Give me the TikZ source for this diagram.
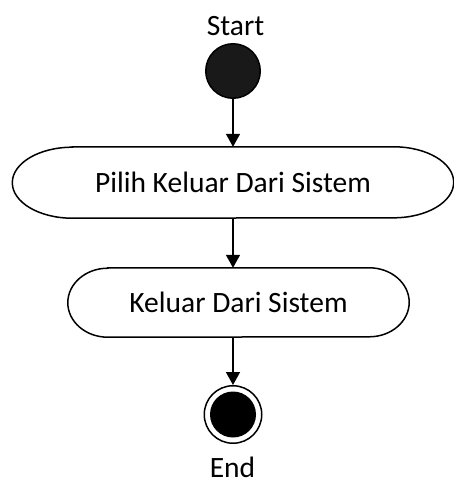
\documentclass[tikz,border=0pt]{standalone}
\usepackage{fontspec}
\setmainfont{Carlito}
\usetikzlibrary{arrows.meta,positioning,calc}

\tikzset{
  initial/.style={circle, draw, fill=black!90, line width=1.5pt, minimum size=54.5pt, inner sep=0pt},
  final/.style={circle, draw, line width=1.5pt, minimum size=57.5pt, inner sep=0pt},
  action/.style={rectangle, draw=none, inner sep=0pt, font=\fontsize{29.5}{34}\selectfont},
  caption/.style={anchor=base, inner sep=0pt, font=\fontsize{29.5}{34}\selectfont},
  flow/.style={line width=1.5pt, -{Triangle[length=13pt,width=14pt]}}
}

\begin{document}
\begin{tikzpicture}[x=1pt, y=-1pt]
\useasboundingbox (0,0) rectangle (453,485);

\node (startlabel) [caption] at (235.5,35) {Start};
\node (start) [initial] at (233,71) {};

\node (pilih) [action, minimum width=321pt, minimum height=71pt] at (233,182.5) {Pilih Keluar Dari Sistem};
\node (keluar) [action, minimum width=261pt, minimum height=69pt] at (238.5,302.5) {Keluar Dari Sistem};

\node (stop) [final] at (233,414.5) {};
\fill (stop.center) circle[radius=23pt];
\node (endlabel) [caption] at (232.5,477) {End};

% Outlines
\draw[line width=1.5pt] (pilih.north west) -- (pilih.north east)
  arc[start angle=90, end angle=-90, x radius=60pt, y radius=35.5pt] -- (pilih.south west)
  arc[start angle=270, end angle=90, x radius=60pt, y radius=35.5pt] -- cycle;
\draw[line width=1.5pt] (keluar.north west) -- (keluar.north east)
  arc[start angle=90, end angle=-90, x radius=40pt, y radius=34.5pt] -- (keluar.south west)
  arc[start angle=270, end angle=90, x radius=40pt, y radius=34.5pt] -- cycle;

% Arrows
\draw[flow] (start) -- (pilih);
\draw[flow] (pilih.south) -- (pilih.south |- keluar.north);
\draw[flow] (keluar.south -| stop.north) -- (stop.north);

\end{tikzpicture}
\end{document}
